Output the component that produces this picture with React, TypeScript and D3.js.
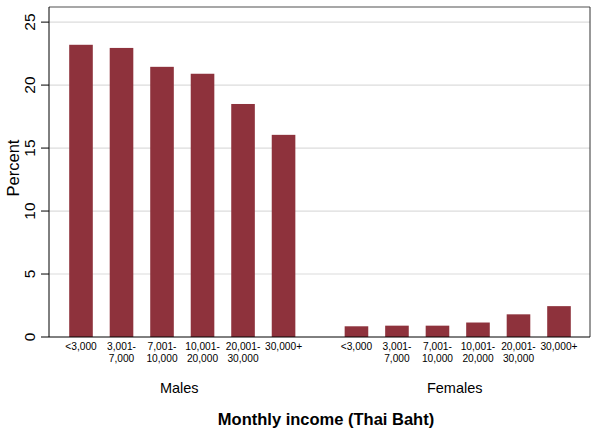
import React from "react";
import * as d3 from "d3";

const width = 600;
const height = 435;

const incomeBands = [
  ["<3,000"],
  ["3,001-", "7,000"],
  ["7,001-", "10,000"],
  ["10,001-", "20,000"],
  ["20,001-", "30,000"],
  ["30,000+"],
];
const groups = ["Males", "Females"];
const maleValues = [23.2, 22.95, 21.45, 20.9, 18.5, 16.05];
const femaleValues = [0.85, 0.9, 0.9, 1.15, 1.8, 2.45];
const yTicks = [0, 5, 10, 15, 20, 25];

const margin = { top: 7, right: 10, bottom: 98, left: 49 };
const barColor = "#8e323c";
const font = "'Liberation Sans', Arial, sans-serif";

export default function App() {
  const plotW = width - margin.left - margin.right;
  const plotH = height - margin.top - margin.bottom;

  const y = d3.scaleLinear().domain([0, 26.2]).range([plotH, 0]);

  // slot positions: 6 bars per group, with a gap of 0.8 slot between groups
  const groupGap = 6.8;
  const x = d3.scaleLinear().domain([0, groupGap + 5]).range([32, plotW - 31]);
  const barW = 23.6;

  const series = [maleValues, femaleValues];

  return (
    <svg width={width} height={height} style={{ position: "absolute", left: 0, top: 0, background: "#fff" }}>
      <g transform={`translate(${margin.left},${margin.top})`} fontFamily={font}>
        {yTicks.slice(1).map((t) => (
          <line key={t} x1={0} x2={plotW} y1={y(t)} y2={y(t)} stroke="#dcdcdc" strokeWidth={1.2} />
        ))}
        <line x1={0} x2={plotW} y1={0} y2={0} stroke="#8a8a8a" strokeWidth={1.5} />
        <line x1={plotW} x2={plotW} y1={0} y2={plotH} stroke="#333" strokeWidth={1} />

        {series.map((vals, gi) =>
          vals.map((v, i) => {
            const cx = x(gi * groupGap + i);
            return (
              <rect
                key={`${gi}-${i}`}
                x={cx - barW / 2}
                y={y(v)}
                width={barW}
                height={plotH - y(v)}
                fill={barColor}
              />
            );
          })
        )}

        <line x1={0} x2={0} y1={0} y2={plotH} stroke="#000" strokeWidth={1} />
        <line x1={0} x2={plotW} y1={plotH} y2={plotH} stroke="#000" strokeWidth={1} />

        {yTicks.map((t) => (
          <g key={t} transform={`translate(0,${y(t)})`}>
            <line x1={-8} x2={0} stroke="#000" />
            <text
              transform="translate(-14,0) rotate(-90)"
              textAnchor="middle"
              fontSize={15.5}
              fill="#000"
            >
              {t}
            </text>
          </g>
        ))}
        <text
          transform={`translate(-30,${plotH / 2 - 4}) rotate(-90)`}
          textAnchor="middle"
          fontSize={16.5}
          fill="#000"
        >
          Percent
        </text>

        {groups.map((g, gi) => (
          <g key={g}>
            {incomeBands.map((lines, i) => {
              const cx = x(gi * groupGap + i);
              return (
                <text key={i} textAnchor="middle" fontSize={10.2} fill="#000">
                  {lines.map((l, li) => (
                    <tspan key={li} x={cx} y={plotH + 12.5 + li * 12.5}>
                      {l}
                    </tspan>
                  ))}
                </text>
              );
            })}
            <text
              x={(x(gi * groupGap) + x(gi * groupGap + 5)) / 2 - 3}
              y={plotH + 56}
              textAnchor="middle"
              fontSize={14.5}
              fill="#000"
            >
              {g}
            </text>
          </g>
        ))}
      </g>
      <text
        x={326}
        y={425}
        textAnchor="middle"
        fontSize={16.5}
        fontWeight="bold"
        fontFamily={font}
        fill="#000"
      >
        Monthly income (Thai Baht)
      </text>
    </svg>
  );
}
